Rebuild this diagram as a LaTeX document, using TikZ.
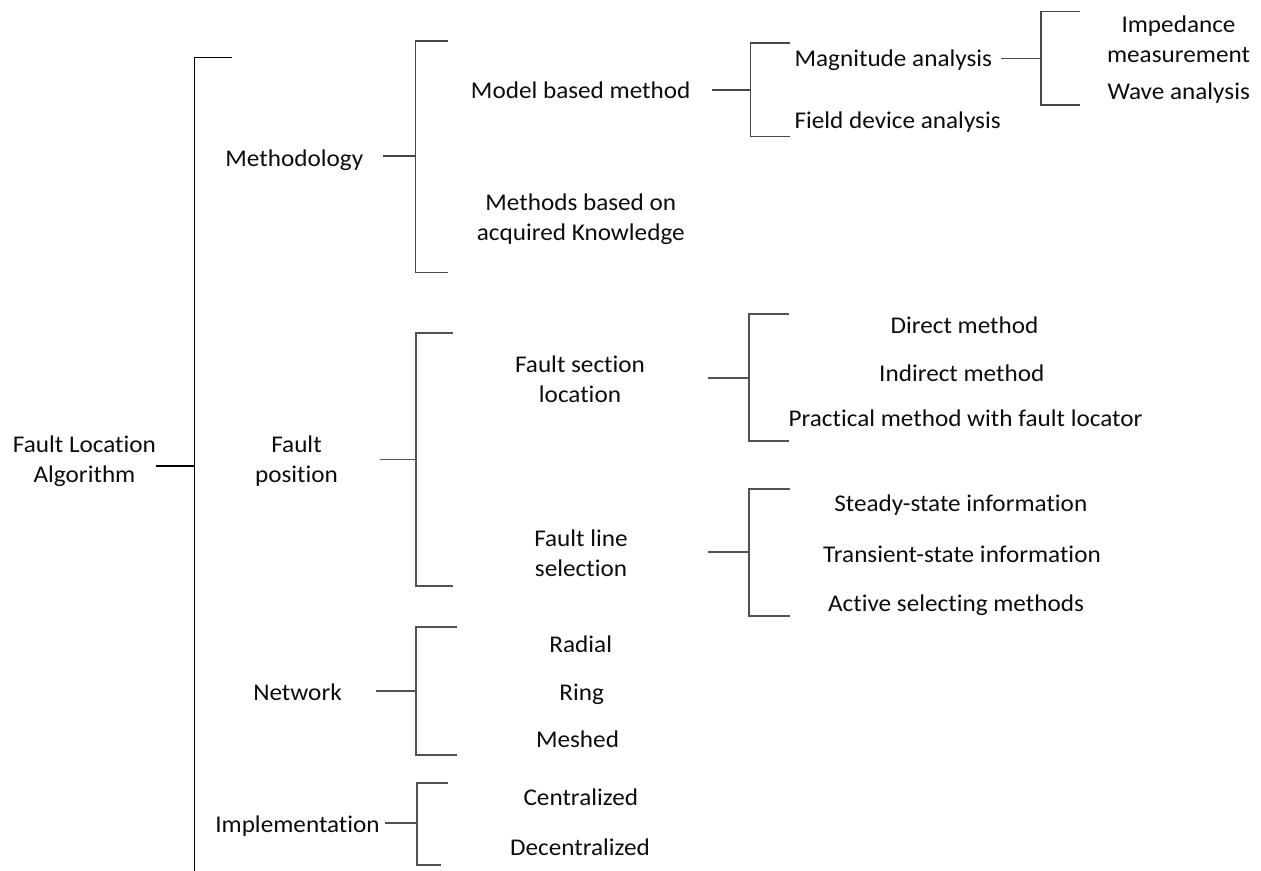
\documentclass[tikz,border=0pt]{standalone}
\usepackage{fontspec}
\setmainfont{Carlito}[FakeStretch=1.05,Ligatures={NoCommon}]
\newcommand{\twolines}[2]{\begin{tabular}[t]{@{}c@{}}#1\\#2\end{tabular}}
\begin{document}
\begin{tikzpicture}[x=0.75pt,y=-0.75pt,
  lbl/.style={inner sep=0pt, anchor=base, text=black!95, font=\fontsize{18}{22.5}\selectfont},
  lblw/.style={lbl, anchor=base west},
  mainline/.style={draw=black, line width=1.1pt},
  brline/.style={draw=black!72, line width=1.1pt},
  thickline/.style={draw=black!68, line width=1.4pt}]
\useasboundingbox (0,0) rectangle (1261,871);

% ---------- text nodes ----------
\node[lbl] (root) at (84.5,452.7) {\twolines{Fault Location}{Algorithm}};
\node[lbl] (meth) at (294.3,166) {Methodology};
\node[lbl] (fpos) at (296.5,452) {\twolines{Fault}{position}};
\node[lbl] (net)  at (297.5,700) {Network};
\node[lbl] (impl) at (297.5,832) {Implementation};

\node[lbl] (mbm)  at (580.7,98.3) {Model based method};
\node[lbl] (mak)  at (580.8,210) {\twolines{Methods based on}{acquired Knowledge}};
\node[lbl] (fsl)  at (580,372.7) {\twolines{Fault section}{location}};
\node[lbl] (fls)  at (581,546.7) {\twolines{Fault line}{selection}};
\node[lbl] (rad)  at (580.8,652.3) {Radial};
\node[lbl] (ring) at (581.7,700) {Ring};
\node[lbl] (mesh) at (577.5,747.7) {Meshed};
\node[lbl] (cen)  at (580.8,805) {Centralized};
\node[lbl] (dec)  at (580,855) {Decentralized};

\node[lblw] (mag) at (794.3,66.7) {Magnitude analysis};
\node[lblw] (fda) at (794.3,128.3) {Field device analysis};
\node[lbl] (imp)  at (1178.5,32.3) {\twolines{Impedance}{measurement}};
\node[lbl] (wave) at (1178.7,99.3) {Wave analysis};

\node[lbl] (dir)  at (964.5,333.3) {Direct method};
\node[lbl] (ind)  at (961.8,381) {Indirect method};
\node[lbl] (prac) at (965.5,426.7) {Practical method with fault locator};
\node[lbl] (ste)  at (960.8,511.7) {Steady-state information};
\node[lbl] (tra)  at (962,562.7) {Transient-state information};
\node[lbl] (act)  at (956,611.7) {Active selecting methods};

% ---------- bracket coordinates ----------
% root
\coordinate (rootS) at (156,466);
\coordinate (rootJ) at (194.3,466);
\coordinate (rootT) at (194.3,57.3);
\coordinate (rootTe) at (232,57.3);
\coordinate (rootB) at (194.3,871);
% methodology
\coordinate (methS) at (383,156);
\coordinate (methJ) at (415.7,156);
\coordinate (methT) at (415.7,41);
\coordinate (methTe) at (448,41);
\coordinate (methB) at (415.7,272.3);
\coordinate (methBe) at (448,272.3);
% model based method
\coordinate (mbmS) at (711.5,90);
\coordinate (mbmJ) at (750.7,90);
\coordinate (mbmT) at (750.7,43);
\coordinate (mbmTe) at (790,43);
\coordinate (mbmB) at (750.7,136.7);
\coordinate (mbmBe) at (790,136.7);
% magnitude analysis
\coordinate (magS) at (1001,58.5);
\coordinate (magJ) at (1041,58.5);
\coordinate (magT) at (1041,11.7);
\coordinate (magTe) at (1080,11.7);
\coordinate (magB) at (1041,105);
\coordinate (magBe) at (1080,105);
% fault position
\coordinate (fposS) at (380,459.5);
\coordinate (fposJ) at (416,459.5);
\coordinate (fposT) at (416,333.3);
\coordinate (fposTe) at (452.5,333.3);
\coordinate (fposB) at (416,585.7);
\coordinate (fposBe) at (452.5,585.7);
% fault section location
\coordinate (fslS) at (708.3,377.7);
\coordinate (fslJ) at (749,377.7);
\coordinate (fslT) at (749,314);
\coordinate (fslTe) at (789.3,314);
\coordinate (fslB) at (749,441);
\coordinate (fslBe) at (789.3,441);
% fault line selection
\coordinate (flsS) at (708.3,552);
\coordinate (flsJ) at (749,552);
\coordinate (flsT) at (749,489.3);
\coordinate (flsTe) at (789.5,489.3);
\coordinate (flsB) at (749,616);
\coordinate (flsBe) at (789.5,616);
% network
\coordinate (netS) at (376,690.7);
\coordinate (netJ) at (415.7,690.7);
\coordinate (netT) at (415.7,627.3);
\coordinate (netTe) at (456.5,627.3);
\coordinate (netB) at (415.7,755);
\coordinate (netBe) at (456.5,755);
% implementation
\coordinate (implS) at (385,823.3);
\coordinate (implJ) at (416.7,823.3);
\coordinate (implT) at (416.7,782.7);
\coordinate (implTe) at (448.3,782.7);
\coordinate (implB) at (416.7,865);
\coordinate (implBe) at (441,865);

% ---------- brackets and connectors ----------
\draw[mainline] (rootTe) -- (rootT) -- (rootB);
\draw[mainline] (rootS) -- (rootJ);

\draw[brline] (methTe) -- (methT) -- (methB) -- (methBe);
\draw[brline] (methS) -- (methJ);

\draw[brline] (mbmTe) -- (mbmT) -- (mbmB) -- (mbmBe);
\draw[brline] (mbmS) -- (mbmJ);

\draw[brline] (magTe) -- (magT) -- (magB) -- (magBe);
\draw[brline] (magS) -- (magJ);

\draw[thickline] (fposTe) -- (fposT) -- (fposB) -- (fposBe);
\draw[thickline] (fposS) -- (fposJ);

\draw[thickline] (fslTe) -- (fslT) -- (fslB) -- (fslBe);
\draw[thickline] (fslS) -- (fslJ);

\draw[thickline] (flsTe) -- (flsT) -- (flsB) -- (flsBe);
\draw[thickline] (flsS) -- (flsJ);

\draw[thickline] (netTe) -- (netT) -- (netB) -- (netBe);
\draw[thickline] (netS) -- (netJ);

\draw[thickline] (implTe) -- (implT) -- (implB) -- (implBe);
\draw[thickline] (implS) -- (implJ);
\end{tikzpicture}
\end{document}
